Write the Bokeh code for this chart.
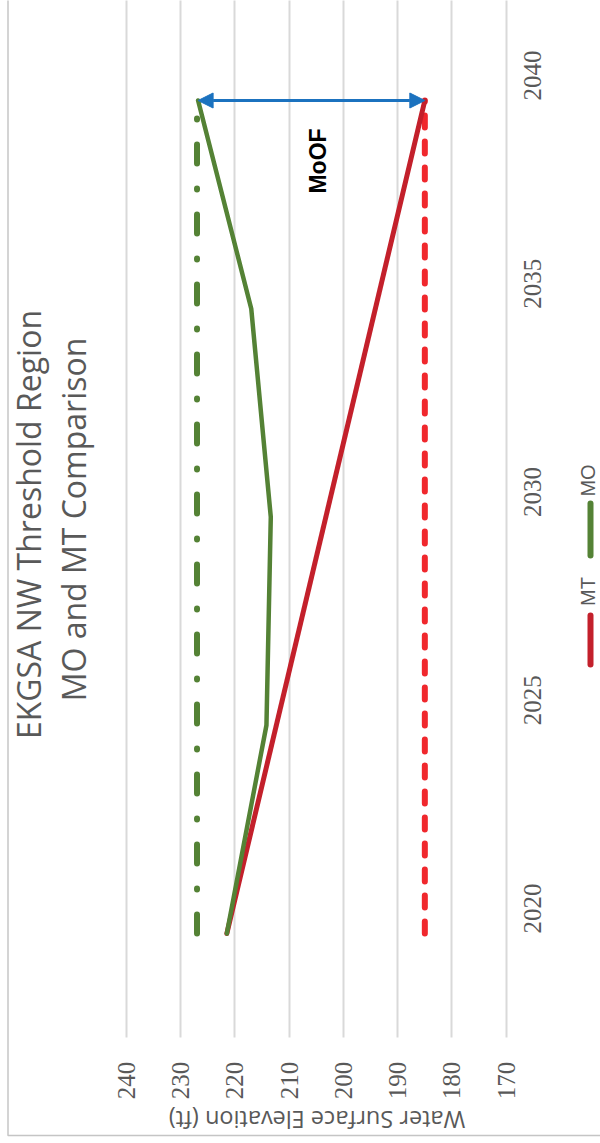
import math
from bokeh.plotting import figure
from bokeh.models import (Range1d, LinearAxis, FixedTicker, Grid, Label, Arrow,
                          NormalHead, BoxAnnotation)
from bokeh.embed import file_html
from bokeh.resources import INLINE

# ---------------- data ----------------
YEARS = [2020, 2025, 2030, 2035, 2040]
MO = [221.5, 214.2, 213.4, 217.0, 226.8]        # MO path, ft
MT_YEARS = [2020, 2040]
MT = [221.5, 185.0]                              # MT path, ft
LEVEL_YEARS = [2020, 2040]
MO_LEVEL = [227.0, 227.0]                        # MO level (dash-dot)
MT_LEVEL = [185.0, 185.0]                        # MT level (dashed)
ELEV_TICKS = [170, 180, 190, 200, 210, 220, 230, 240]
YEAR_TICKS = [2020, 2025, 2030, 2035, 2040]
SERIES_NAMES = ["MT", "MO"]
TITLE_LINES = ["EKGSA NW Threshold Region", "MO and MT Comparison"]
AXIS_TITLE = "Water Surface Elevation (ft)"
NOTE = "MoOF"

# ---------------- layout geometry (pixels of the page) ----------------
W, H = 600, 1143
PX_HI, PX_LO = 126.0, 505.7      # x pixel of top (240) and bottom (170) of the value axis
PY_FIRST, PY_LAST = 933.0, 100.0 # y pixel of first and last category
HALF_STEP = 2.5                  # category axis half step (Excel "between tick marks")

ELEV_LO, ELEV_HI = ELEV_TICKS[0], ELEV_TICKS[-1]


def X(px):
    return ELEV_HI + (px - PX_HI) * (ELEV_LO - ELEV_HI) / (PX_LO - PX_HI)


def Y(py):
    return YEARS[0] + (py - PY_FIRST) * (YEARS[-1] - YEARS[0]) / (PY_LAST - PY_FIRST)


GREEN = "#548235"
RED = "#C3202B"
RED2 = "#F0282D"
BLUE = "#1B72BF"
GRAY = "#595959"

p = figure(width=W, height=H,
           x_range=Range1d(X(0), X(W)), y_range=Range1d(Y(H), Y(0)),
           x_axis_location=None, y_axis_location=None,
           toolbar_location=None, output_backend="svg",
           min_border=0, min_border_left=0, min_border_right=0,
           min_border_top=0, min_border_bottom=0)
p.outline_line_color = None
p.background_fill_color = "white"
p.border_fill_color = "white"
# remove the default grids; a custom one is added below
for g in list(p.grid):
    g.visible = False

# chart border (left and bottom edges visible)
p.add_layout(BoxAnnotation(left=X(7.5), right=X(W + 40), bottom=Y(1135.0), top=Y(-40),
                           fill_color=None, line_color="#404040", line_width=1.5))

bottom_of_plot = YEARS[0] - HALF_STEP

grid = Grid(dimension=0, ticker=FixedTicker(ticks=ELEV_TICKS),
            cross_bounds=(bottom_of_plot, Y(-20)),
            grid_line_color="#D9D9D9", grid_line_width=2)
p.add_layout(grid)

common = dict(axis_line_color=None, major_tick_line_color=None,
              minor_tick_line_color=None,
              major_label_orientation=math.pi / 2,
              major_label_text_font="Liberation Sans Narrow",
              major_label_text_font_size="25px",
              major_label_text_color=GRAY)

xaxis = LinearAxis(fixed_location=bottom_of_plot,
                   ticker=FixedTicker(ticks=ELEV_TICKS),
                   major_label_standoff=18, **common)
p.add_layout(xaxis, "below")

yaxis = LinearAxis(fixed_location=ELEV_LO,
                   ticker=FixedTicker(ticks=YEAR_TICKS),
                   major_label_standoff=20, **common)
p.add_layout(yaxis, "right")

# level lines
p.line(x=MO_LEVEL, y=LEVEL_YEARS, line_color=GREEN, line_width=6,
       line_dash="19 25 1 25", line_cap="round")
p.line(x=MT_LEVEL, y=LEVEL_YEARS, line_color=RED2, line_width=6,
       line_dash="12 14", line_cap="round")

# series
p.line(x=MT, y=MT_YEARS, line_color=RED, line_width=5, line_cap="round", line_join="round")
p.line(x=MO, y=YEARS, line_color=GREEN, line_width=4.5, line_cap="round", line_join="round")

# MoOF arrow between MO and MT at final year
p.add_layout(Arrow(start=NormalHead(size=15, fill_color=BLUE, line_color=BLUE),
                   end=NormalHead(size=15, fill_color=BLUE, line_color=BLUE),
                   x_start=MO[-1], y_start=YEARS[-1], x_end=MT[-1], y_end=MT_YEARS[-1],
                   line_color=BLUE, line_width=3))


def vlabel(px, py, text, font, size, color, style="normal", angle=math.pi / 2):
    p.add_layout(Label(x=X(px), y=Y(py), text=text, angle=angle,
                       text_align="center", text_baseline="middle",
                       text_font=font, text_font_style=style,
                       text_font_size=size, text_color=color))


vlabel(317.5, 160.5, NOTE, "Liberation Sans", "23px", "black", style="bold")

# title
vlabel(27.5, 524, TITLE_LINES[0], "Open Sans", "32px", GRAY)
vlabel(72.5, 519, TITLE_LINES[1], "Open Sans", "32px", GRAY)

# value axis title (upside down, as in the reference)
vlabel(316.5, 1119, AXIS_TITLE, "Open Sans", "23.5px", GRAY, angle=math.pi)

# legend
p.segment(x0=[X(590), X(590)], y0=[Y(664), Y(555)],
          x1=[X(590), X(590)], y1=[Y(615), Y(503)],
          line_color=[RED, GREEN], line_width=6, line_cap="round")
vlabel(587.0, 591, SERIES_NAMES[0], "Liberation Sans", "20px", GRAY)
vlabel(587.0, 480, SERIES_NAMES[1], "Liberation Sans", "20px", GRAY)

open("out.html", "w").write(file_html(p, INLINE))
